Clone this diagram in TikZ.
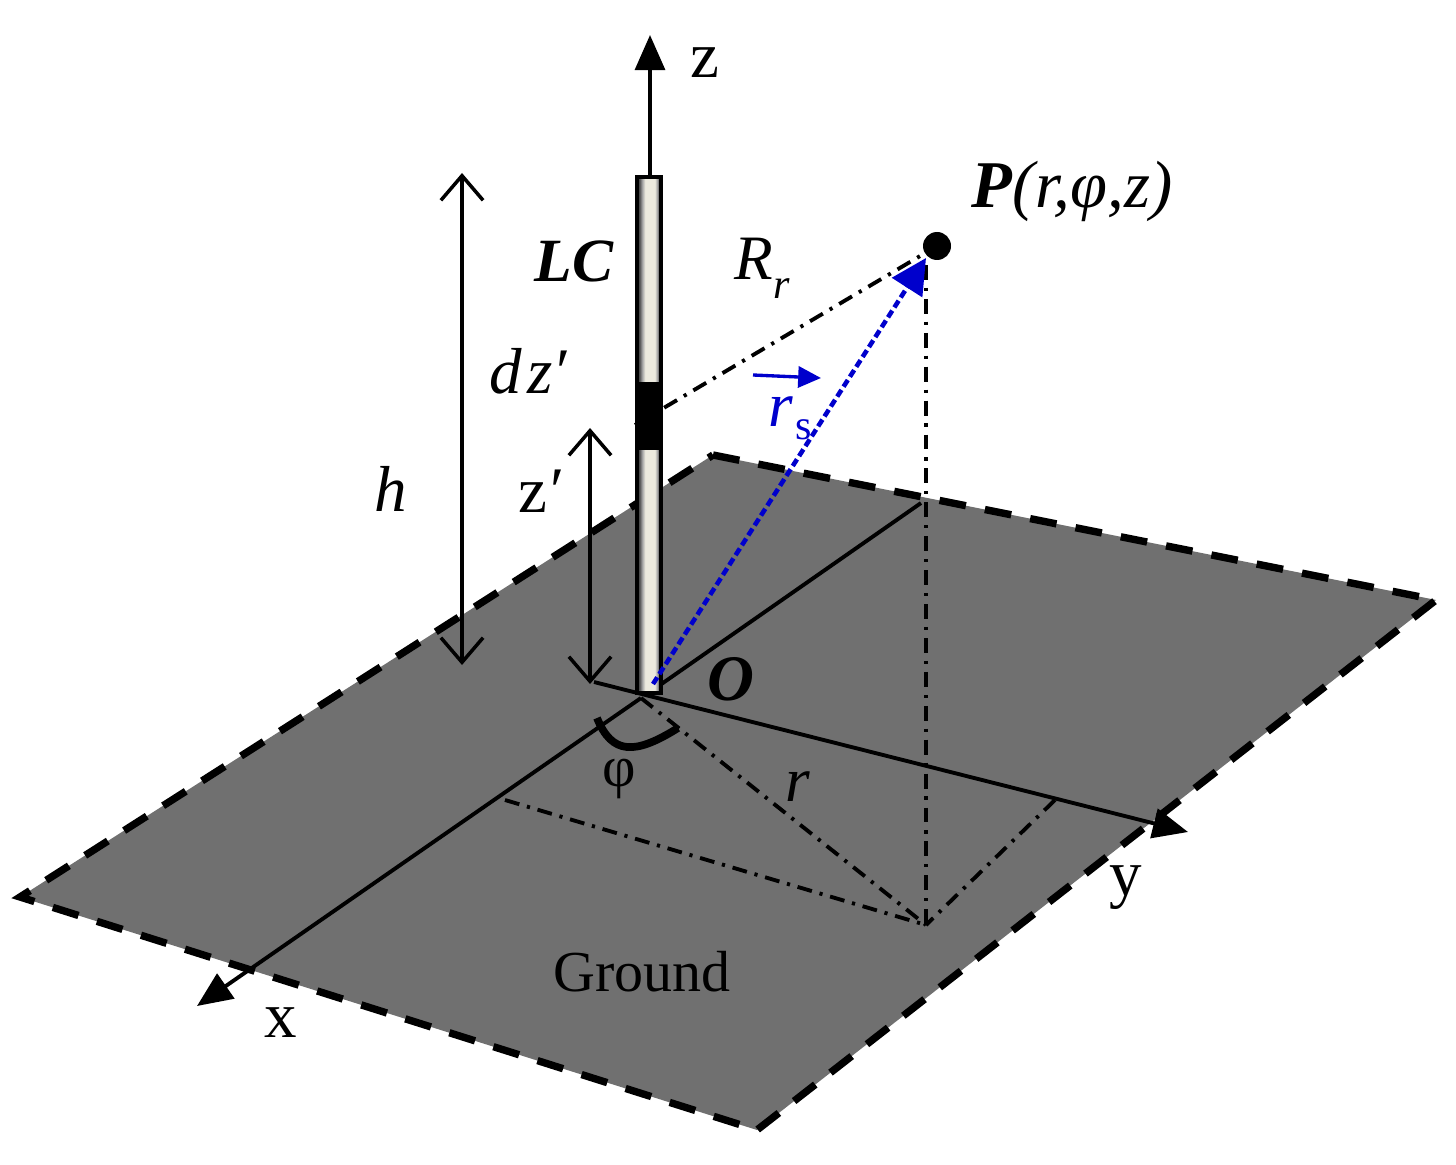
\documentclass[tikz,border=0pt]{standalone}
\usepackage{fontspec}
\setmainfont{Liberation Serif}
\usetikzlibrary{arrows.meta}
\definecolor{groundgray}{RGB}{112,112,112}
\definecolor{rsblue}{RGB}{0,0,204}
\definecolor{rodcream}{RGB}{236,234,222}
\pgfdeclarehorizontalshading{rodshade}{100bp}{color(0bp)=(black!70); color(30bp)=(black!70); color(36bp)=(black!35); color(42bp)=(rodcream); color(62bp)=(rodcream); color(67bp)=(black!35); color(71bp)=(black!65); color(100bp)=(black!65)}
\tikzset{
  axisline/.style={line width=2.2pt,-{Triangle[length=20pt,width=17pt]}},
  baseline/.style={line width=2.2pt},
  dimline/.style={line width=2pt,{Straight Barb[length=14pt,width=24pt,line width=2pt]}-{Straight Barb[length=14pt,width=24pt,line width=2pt]}},
  projline/.style={line width=2.2pt,dash pattern=on 8.5pt off 4.5pt on 1.8pt off 4.5pt},
  lab/.style={inner sep=0pt,font=\fontsize{33}{35}\selectfont},
  biglab/.style={inner sep=0pt,font=\fontsize{37}{39}\selectfont},
}
\begin{document}
\begin{tikzpicture}[x=0.02cm,y=-0.02cm]
\useasboundingbox (0,0) rectangle (1456,1165);
\coordinate (G1) at (713,455);
\coordinate (G2) at (1436,600);
\coordinate (G3) at (757,1130);
\coordinate (G4) at (20,897);
\coordinate (P) at (937,246);
\coordinate (foot) at (926,925);
\coordinate (O) at (650,692);
\draw[fill=groundgray,line width=4.2pt,dash pattern=on 15.3pt off 11pt] (G1) -- (G2) -- (G3) -- (G4) -- cycle;
\coordinate (yend) at (1188,832);
\coordinate (yback) at (594,682);
\coordinate (xend) at (197,1006);
\coordinate (xback) at (641,698);
\coordinate (edge) at (921,503);
\coordinate (xfoot) at (505,800);
\coordinate (yfoot) at (1055,800);
\draw[axisline] (yback) -- (yend);
\draw[axisline] (xback) -- (xend);
\draw[baseline] (O) -- (edge);
\draw[projline] (P) ++(-11,19) coordinate (Ptop) (Ptop) -- (926,932);
\draw[projline] (xfoot) -- (foot);
\draw[projline] (yfoot) -- (foot);
\draw[projline] (xback) -- (foot);
\coordinate (elem) at (635,425);
\draw[projline] (elem) -- (P);
\draw[axisline] (650,177) -- (650,35);
\draw[dimline] (462,173) -- (462,665);
\draw[dimline] (590,428) -- (590,684);
\shade[shading=rodshade] (637,177) rectangle (661,693);
\draw[line width=2.8pt] (637,177) rectangle (661,693);
\fill (637,382) rectangle (661,450);
\draw[rsblue,line width=2.6pt,dash pattern=on 4.5pt off 2.2pt,-{Triangle[length=20pt,width=20pt]}] (653,684) -- (926,258);
\draw[rsblue,line width=1.9pt,-{Triangle[length=13pt,width=12pt]}] (753,375) -- (821,378);
\fill (P) circle (14);
\draw[line width=4.4pt] (597,718) .. controls (612,755) and (635,755) .. (678,728);
\node[biglab] (zlab) at (705,63) {z};
\node[biglab] (xlab) at (281,1023) {x};
\node[biglab] (ylab) at (1126,888) {y};
\node[lab] (glab) at (642,972) {Ground};
\node[lab] (phi) at (619,779) {φ};
\node[biglab] (olab) at (731,679) {\textbf{\textit{O}}};
\node[lab,font=\fontsize{35}{37}\selectfont] (lclab) at (574,261) {\textbf{\textit{LC}}};
\node[lab,font=\fontsize{38}{40}\selectfont] (plab) at (1072,191) {\textbf{\textit{P}}\textit{(r,φ,z)}};
\node[lab,font=\fontsize{36}{38}\selectfont] (rrlab) at (762,268) {\textit{R}\raisebox{-.3em}{\fontsize{24}{26}\selectfont\textit{r}}};
\node[biglab] (dzlab) at (530,371) {\textit{d\kern.08em z}\kern.05em ′};
\node[biglab] (zplab) at (542,491) {z\kern.05em ′};
\node[biglab] (hlab) at (391,489) {\textit{h}};
\node[lab,font=\fontsize{36}{38}\selectfont] (rlab) at (798,787) {\textit{r}};
\node[lab,text=rsblue,font=\fontsize{36}{38}\selectfont] (rslab) at (790,418) {\textit{r}\raisebox{-.2em}{\fontsize{24}{26}\selectfont\kern.05em s}};
\end{tikzpicture}
\end{document}
